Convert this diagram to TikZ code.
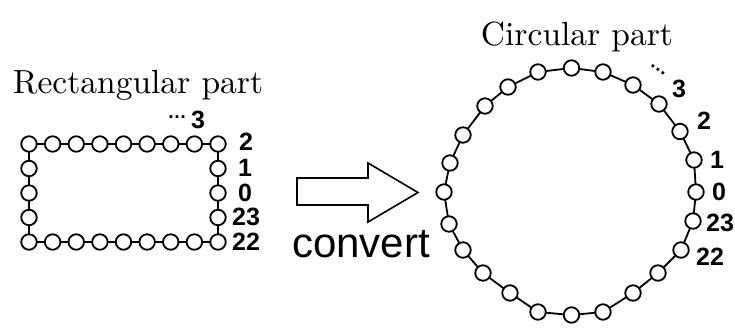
\documentclass[tikz,border=0pt]{standalone}
\usepackage{fontspec}
\newfontfamily\arial{Liberation Sans}
\newfontfamily\lmten{lmroman10-regular.otf}
\begin{document}
\begin{tikzpicture}[x=1pt,y=-1pt,
  bead/.style={circle,draw,fill=white,line width=1.8pt,minimum size=15.5pt,inner sep=0pt},
  link/.style={line width=1.8pt},
  title/.style={font=\lmten\fontsize{33.5}{36}\selectfont,anchor=base,inner sep=0pt},
  num/.style={font=\arial\bfseries\fontsize{25}{26}\selectfont,inner sep=0pt},
  dots/.style={font=\arial\bfseries\fontsize{19}{20}\selectfont,inner sep=0pt}]
\useasboundingbox (0,0) rectangle (735,327);

% ---- rectangular ring: 24 beads, numbered counter-clockwise from the right middle
\coordinate (r0) at (218,193);
\coordinate (r1) at (218,168.5);
\foreach \k in {2,...,10}{ \coordinate (r\k) at ({218-23.625*(\k-2)},144); }
\coordinate (r11) at (29,168.5);
\coordinate (r12) at (29,193);
\coordinate (r13) at (29,217.5);
\foreach \k in {14,...,22}{ \coordinate (r\k) at ({29+23.625*(\k-14)},242); }
\coordinate (r23) at (218,217.5);
\foreach \k [evaluate=\k as \n using {int(mod(\k+1,24))}] in {0,...,23}{
  \draw[link] (r\k) -- (r\n);
}
\foreach \k in {0,...,23}{ \node[bead] (rb\k) at (r\k) {}; }

\node[title] (rtitle) at (138,93) {Rectangular part};
\node[num,anchor=west] (rl2) at (239,142) {2};
\node[num,anchor=west] (rl1) at (238,168) {1};
\node[num,anchor=west] (rl0) at (238,193) {0};
\node[num,anchor=west] (rl23) at (232,217) {23};
\node[num,anchor=west] (rl22) at (232,242) {22};
\node[num,anchor=west] (rl3) at (191,120) {3};
\node[dots] (rdots) at (177,117) {…};

% ---- block arrow
\draw[line width=1.6pt,line join=miter] (297,178) -- (368,178) -- (368,163) -- (418,192.5)
  -- (368,222) -- (368,205) -- (297,205) -- cycle;
\node[font=\arial\fontsize{42}{44}\selectfont,anchor=base,inner sep=0pt] (conv) at (361,257) {convert};

% ---- circular ring
\foreach \k/\px/\py in {0/696/192, 1/694/160, 2/680/131.5, 3/659/104, 4/633/85,
  5/603/72, 6/571.5/68, 7/538/72, 8/508/87, 9/485/106, 10/463/135, 11/450/163,
  12/444/192, 13/449/224, 14/463/250, 15/483/273, 16/510/293, 17/538/312,
  18/571.5/315, 19/603/312, 20/633/293, 21/658/273, 22/681/250, 23/693/221}{
  \coordinate (c\k) at (\px,\py);
}
\foreach \k [evaluate=\k as \n using {int(mod(\k+1,24))}] in {0,...,23}{
  \draw[link] (c\k) -- (c\n);
}
\foreach \k in {0,...,23}{ \node[bead] (cb\k) at (c\k) {}; }

\node[title] (ctitle) at (577,45) {Circular part};
\node[num,anchor=west] (cl0) at (712,192) {0};
\node[num,anchor=west] (cl1) at (710,160) {1};
\node[num,anchor=west] (cl2) at (697,121) {2};
\node[num,anchor=west] (cl3) at (672,89) {3};
\node[num,anchor=west] (cl23) at (706,223) {23};
\node[num,anchor=west] (cl22) at (696,257) {22};
\node[dots,rotate=-35] (cdots) at (658,70) {…};
\end{tikzpicture}
\end{document}
